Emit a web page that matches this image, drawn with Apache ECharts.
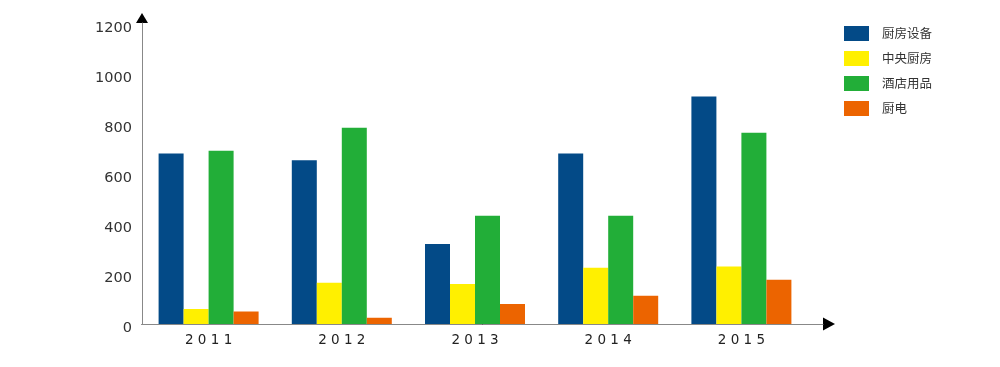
<!DOCTYPE html>
<html>
<head>
<meta charset="utf-8">
<script src="https://cdn.jsdelivr.net/npm/echarts@6/dist/echarts.min.js"></script>
<style>html,body{margin:0;padding:0;background:#fff;}#c{width:1000px;height:367px;}</style>
</head>
<body>
<div id="c"></div>
<script>
const categories = ['2011', '2012', '2013', '2014', '2015'];
const seriesNames = ['厨房设备', '中央厨房', '酒店用品', '厨电'];
const kitchenEquip = [682, 655, 320, 682, 910];
const centralKitchen = [60, 165, 160, 225, 230];
const hotelSupplies = [693, 785, 433, 433, 765];
const kitchenAppliance = [50, 25, 80, 113, 177];
const yTicks = [0, 200, 400, 600, 800, 1000, 1200];
const colors = ['#034a87', '#fff000', '#22ae38', '#ec6400'];

const values = [kitchenEquip, centralKitchen, hotelSupplies, kitchenAppliance];
const chart = echarts.init(document.getElementById('c'));

function lineAxis(gridIndex, color, arrow, size, z) {
  return {
    type: 'value', gridIndex, min: 0, max: 1, z,
    axisLine: { show: true, symbol: arrow ? ['none', 'triangle'] : 'none', symbolSize: size, lineStyle: { color, width: 1 } },
    axisTick: { show: false }, axisLabel: { show: false }, splitLine: { show: false }
  };
}

const option = {
  animation: false,
  color: colors,
  textStyle: { fontFamily: 'DejaVu Sans' },
  legend: {
    orient: 'vertical',
    left: 844,
    top: 26,
    padding: 0,
    itemWidth: 25,
    itemHeight: 15,
    itemGap: 10,
    icon: 'rect',
    data: seriesNames,
    textStyle: { fontFamily: 'Noto Sans CJK SC', fontSize: 12.5, color: '#333', padding: [0, 0, 0, 8] }
  },
  grid: [
    { left: 142, width: 666, top: 24, bottom: 43, containLabel: false },
    { left: 142, right: 171, top: 18, bottom: 43, containLabel: false },
    { left: 142, right: 177, top: 23, bottom: 43, containLabel: false }
  ],
  xAxis: [
    {
      type: 'category', gridIndex: 0, data: categories,
      axisLine: { show: false }, axisTick: { show: false },
      axisLabel: {
        margin: 9, fontSize: 13.5, color: '#222',
        formatter: v => v.split('').join(' ')
      }
    },
    lineAxis(1, '#000', true, [13, 12], 1),
    lineAxis(2, '#888', false, [0, 0], 2)
  ],
  yAxis: [
    {
      type: 'value', gridIndex: 0, min: yTicks[0], max: yTicks[yTicks.length - 1], interval: 200,
      axisLine: { show: false }, axisTick: { show: false }, splitLine: { show: false },
      axisLabel: { margin: 10, fontSize: 14.5, color: '#333', verticalAlign: 'top', lineHeight: 8, formatter: v => String(v) }
    },
    lineAxis(1, '#000', true, [12, 10], 1),
    lineAxis(2, '#888', false, [0, 0], 2)
  ],
  series: seriesNames.map((name, i) => ({
    name, type: 'bar', xAxisIndex: 0, yAxisIndex: 0,
    data: values[i], barWidth: 25, barGap: '0%'
  }))
};
chart.setOption(option);
</script>
</body>
</html>
